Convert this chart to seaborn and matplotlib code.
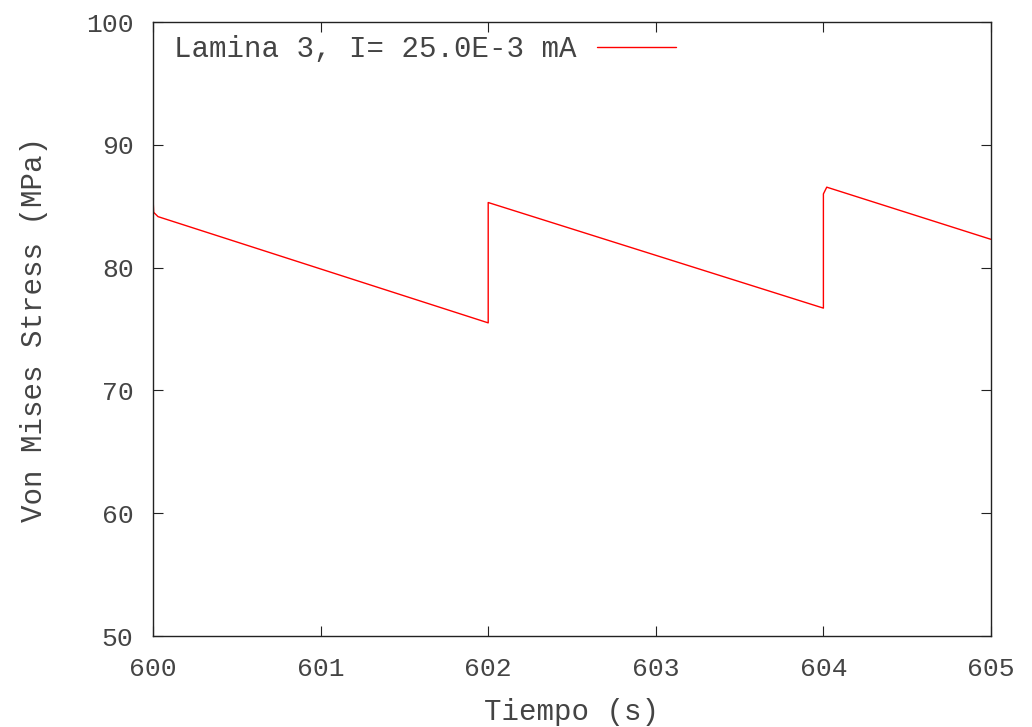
import matplotlib
matplotlib.use("Agg")
import matplotlib.pyplot as plt
import seaborn as sns
import pandas as pd

# Data
tiempo = [600.0, 600.004, 600.03, 602.0, 602.0, 604.0, 604.0, 604.02, 605.0]
stress = [85.7, 84.5, 84.15, 75.5, 85.3, 76.7, 86.0, 86.55, 82.3]
series_label = "Lamina 3, I= 25.0E-3 mA"
x_ticks = [600, 601, 602, 603, 604, 605]
y_ticks = [50, 60, 70, 80, 90, 100]

df = pd.DataFrame({"Tiempo": tiempo, "Stress": stress})

sns.set_style("ticks")
mono = ["Liberation Mono", "DejaVu Sans Mono"]
plt.rcParams["font.family"] = mono

fig = plt.figure(figsize=(10.32, 7.27), dpi=100)
ax = fig.add_axes([153/1032, 1-636/727, (991-153)/1032, (636-22)/727])

sns.lineplot(data=df, x="Tiempo", y="Stress", sort=False, estimator=None,
             color="#ff0000", linewidth=1.0, ax=ax, label=series_label)

ax.set_xlim(600, 605)
ax.set_ylim(50, 100)
ax.set_xticks(x_ticks)
ax.set_yticks(y_ticks)
ax.tick_params(direction="in", length=7, width=0.8, top=True, right=True,
               labelsize=19, colors="#222222")
ax.tick_params(axis="x", pad=15)
ax.tick_params(axis="y", pad=14)
for lab in ax.get_xticklabels() + ax.get_yticklabels():
    lab.set_color("#444444")
for s in ax.spines.values():
    s.set_visible(True)
    s.set_linewidth(1.0)
    s.set_color("#222222")

lab_font = dict(family=mono, size=21, color="#444444")
ax.set_xlabel("Tiempo (s)", **lab_font)
ax.set_ylabel("Von Mises Stress (MPa)", **lab_font)
ax.xaxis.set_label_coords(0.5, -0.101)
ax.yaxis.set_label_coords(-0.125, 0.5)

leg = ax.legend(loc="upper left", bbox_to_anchor=(0.011, 0.998),
                markerfirst=False, frameon=False,
                handlelength=2.74, handletextpad=0.69, borderaxespad=0.0,
                prop={"family": mono, "size": 21})
for t in leg.get_texts():
    t.set_color("#444444")

fig.savefig("out.png", dpi=100)
